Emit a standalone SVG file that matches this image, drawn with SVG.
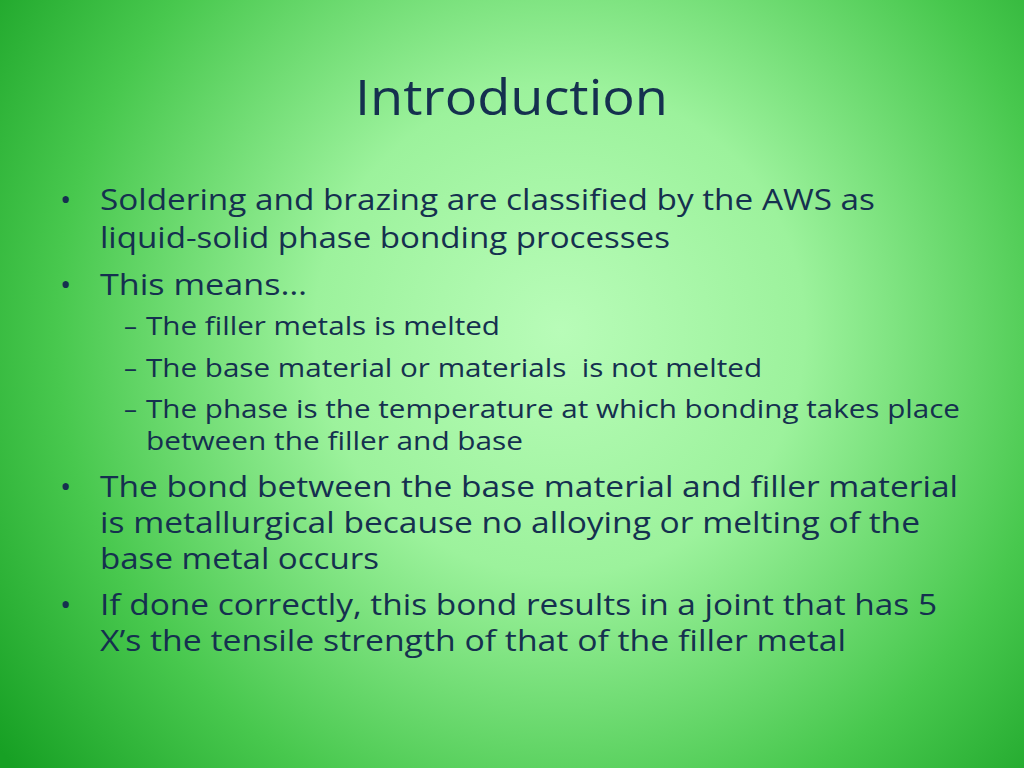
<svg xmlns="http://www.w3.org/2000/svg" width="1024" height="768" viewBox="0 0 1024 768">
<defs>
<radialGradient id="bg" cx="560" cy="330" r="700" gradientUnits="userSpaceOnUse">
<stop offset="0" stop-color="#b8fcb8"/>
<stop offset="0.35" stop-color="#9cf29c"/>
<stop offset="0.72" stop-color="#48c84e"/>
<stop offset="1" stop-color="#17a024"/>
</radialGradient>
<style>
text{font-family:"Open Sans","Liberation Sans",sans-serif;fill:#15304f}
.t{font-size:50px}
.b{font-size:30px}
.s{font-size:26px}
</style>
</defs>
<rect width="1024" height="768" fill="url(#bg)"/>
<text class="t" x="355" y="115" textLength="313" lengthAdjust="spacingAndGlyphs">Introduction</text>
<g class="b">
<text class="b" x="60" y="210">•</text>
<text class="b" x="100" y="210" textLength="775" lengthAdjust="spacingAndGlyphs">Soldering and brazing are classified by the AWS as</text>
<text class="b" x="100" y="248" textLength="570" lengthAdjust="spacingAndGlyphs">liquid-solid phase bonding processes</text>
<text class="b" x="60" y="295">•</text>
<text class="b" x="100" y="295" textLength="207" lengthAdjust="spacingAndGlyphs">This means…</text>
<text class="s" x="124" y="335">–</text>
<text class="s" x="146" y="335" textLength="354" lengthAdjust="spacingAndGlyphs">The filler metals is melted</text>
<text class="s" x="124" y="377">–</text>
<text class="s" x="146" y="377" textLength="616" lengthAdjust="spacingAndGlyphs" xml:space="preserve">The base material or materials  is not melted</text>
<text class="s" x="124" y="418">–</text>
<text class="s" x="146" y="418" textLength="814" lengthAdjust="spacingAndGlyphs">The phase is the temperature at which bonding takes place</text>
<text class="s" x="146" y="450" textLength="377" lengthAdjust="spacingAndGlyphs">between the filler and base</text>
<text class="b" x="60" y="497">•</text>
<text class="b" x="100" y="497" textLength="858" lengthAdjust="spacingAndGlyphs">The bond between the base material and filler material</text>
<text class="b" x="100" y="533" textLength="820" lengthAdjust="spacingAndGlyphs">is metallurgical because no alloying or melting of the</text>
<text class="b" x="100" y="569" textLength="279" lengthAdjust="spacingAndGlyphs">base metal occurs</text>
<text class="b" x="60" y="615">•</text>
<text class="b" x="100" y="615" textLength="837" lengthAdjust="spacingAndGlyphs">If done correctly, this bond results in a joint that has 5</text>
<text class="b" x="100" y="651" textLength="746" lengthAdjust="spacingAndGlyphs">X’s the tensile strength of that of the filler metal</text>
</g>
</svg>
